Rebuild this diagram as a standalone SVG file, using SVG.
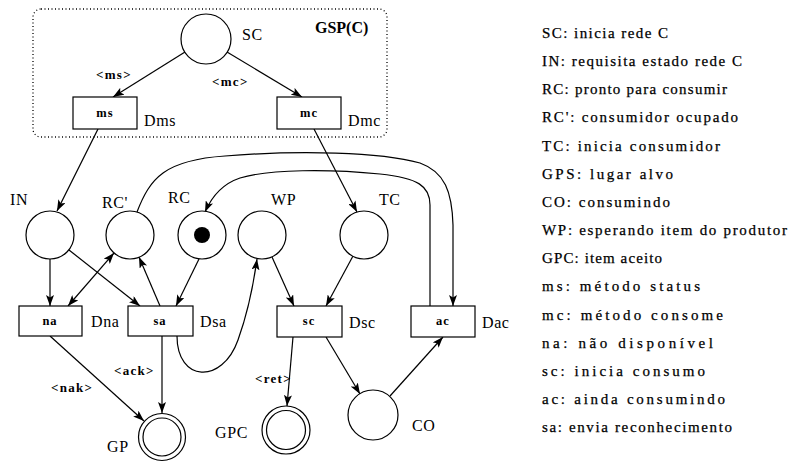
<svg xmlns="http://www.w3.org/2000/svg" width="789" height="462" viewBox="0 0 789 462" font-family="Liberation Serif, Times New Roman, DejaVu Serif, serif">
<defs>
<marker id="ah" viewBox="0 0 11 8" refX="11" refY="4" markerWidth="11" markerHeight="8" markerUnits="userSpaceOnUse" orient="auto-start-reverse">
<path d="M0,0 L11,4 L0,8 L2.5,4 z" fill="#000"/>
</marker>
</defs>
<style>
text{fill:#000}
.lbl{font-size:16px;letter-spacing:0.6px}
.tl{font-size:12.5px;font-weight:bold;letter-spacing:1px;text-anchor:middle}
.al{font-size:13px;font-weight:bold;letter-spacing:1.3px}
.leg{font-size:15px;stroke:#000;stroke-width:0.25}
.pl{fill:#fff;stroke:#000;stroke-width:1.2}
.tr{fill:#fff;stroke:#000;stroke-width:1.2}
.arc{fill:none;stroke:#000;stroke-width:1.2;marker-end:url(#ah)}
</style>
<rect width="789" height="462" fill="#fff"/>
<g id="GSP">
<rect x="33" y="9" width="354" height="128" rx="8" fill="none" stroke="#000" stroke-width="1.3" stroke-dasharray="1 2.5"/>
<text x="315" y="33" font-size="16" font-weight="bold">GSP(C)</text>
</g>
<g id="connectors">
<path class="arc" d="M185,52 L113,97"/>
<path class="arc" d="M227,52 L302,97"/>
<path class="arc" d="M98,129 L57,211"/>
<path class="arc" d="M314,129 L357,212"/>
<path class="arc" d="M50,259 L50,306"/>
<path class="arc" d="M69,250 L140,306"/>
<path class="arc" d="M114,253 L68,306" style="marker-start:url(#ah)"/>
<path class="arc" d="M160,306 L139,257"/>
<path class="arc" d="M199,259 L176,306"/>
<path class="arc" d="M177,336 C177,382 222,385 238,340 C246,318 253,288 257,259"/>
<path class="arc" d="M272,257 L294,306"/>
<path class="arc" d="M353,256 L326,306"/>
<path class="arc" d="M137,212 C150,178 165,160 225,156 C300,150 380,152 420,163 C445,172 452,192 453,225 L453,306"/>
<path class="arc" d="M430,306 L430,205 C430,186 418,178 380,174 C330,169 270,169 240,178 C222,184 212,196 205,212"/>
<path class="arc" d="M50,336 L144,421"/>
<path class="arc" d="M162,336 L162,413"/>
<path class="arc" d="M293,337 L287,406"/>
<path class="arc" d="M326,337 L360,394"/>
<path class="arc" d="M390,396 L443,337"/>
<text class="al" x="96" y="79">&lt;ms&gt;</text>
<text class="al" x="212" y="86">&lt;mc&gt;</text>
<text class="al" x="51" y="392">&lt;nak&gt;</text>
<text class="al" x="114" y="375">&lt;ack&gt;</text>
<text class="al" x="255" y="383">&lt;ret&gt;</text>
</g>
<g id="SC"><circle class="pl" cx="206" cy="39" r="25"/><text class="lbl" x="242" y="40">SC</text></g>
<g id="ms"><rect class="tr" x="73" y="97" width="64" height="32"/><text class="tl" x="105" y="117">ms</text><text class="lbl" x="144" y="126">Dms</text></g>
<g id="mc"><rect class="tr" x="277" y="97" width="64" height="32"/><text class="tl" x="309" y="117">mc</text><text class="lbl" x="348" y="126">Dmc</text></g>
<g id="IN"><circle class="pl" cx="50" cy="235" r="24"/><text class="lbl" x="10" y="205">IN</text></g>
<g id="RCp"><circle class="pl" cx="130" cy="235" r="24"/><text class="lbl" x="102" y="208">RC'</text></g>
<g id="RC"><circle class="pl" cx="202" cy="235" r="24"/><circle cx="202" cy="235" r="8" fill="#000"/><text class="lbl" x="168" y="203">RC</text></g>
<g id="WP"><circle class="pl" cx="262" cy="235" r="24"/><text class="lbl" x="271" y="205">WP</text></g>
<g id="TC"><circle class="pl" cx="364" cy="235" r="24"/><text class="lbl" x="379" y="205">TC</text></g>
<g id="na"><rect class="tr" x="19" y="306" width="63" height="30"/><text class="tl" x="50" y="325">na</text><text class="lbl" x="91" y="327">Dna</text></g>
<g id="sa"><rect class="tr" x="128" y="306" width="65" height="30"/><text class="tl" x="160" y="325">sa</text><text class="lbl" x="200" y="327">Dsa</text></g>
<g id="sc"><rect class="tr" x="277" y="306" width="65" height="31"/><text class="tl" x="309" y="325">sc</text><text class="lbl" x="349" y="328">Dsc</text></g>
<g id="ac"><rect class="tr" x="411" y="306" width="64" height="31"/><text class="tl" x="443" y="325">ac</text><text class="lbl" x="482" y="328">Dac</text></g>
<g id="GP"><circle class="pl" cx="162" cy="437" r="23.5"/><circle class="pl" cx="162" cy="437" r="19"/><text class="lbl" x="107" y="452">GP</text></g>
<g id="GPC"><circle class="pl" cx="286" cy="430" r="24"/><circle class="pl" cx="286" cy="430" r="19.5"/><text class="lbl" x="215" y="438">GPC</text></g>
<g id="CO"><circle class="pl" cx="373" cy="415" r="25"/><text class="lbl" x="412" y="431">CO</text></g>
<g id="legend">
<text class="leg" x="542" y="38" textLength="126" lengthAdjust="spacing">SC: inicia rede C</text>
<text class="leg" x="542" y="66" textLength="200" lengthAdjust="spacing">IN: requisita estado rede C</text>
<text class="leg" x="542" y="94" textLength="185" lengthAdjust="spacing">RC: pronto para consumir</text>
<text class="leg" x="542" y="122" textLength="196" lengthAdjust="spacing">RC': consumidor ocupado</text>
<text class="leg" x="542" y="151" textLength="178" lengthAdjust="spacing">TC: inicia consumidor</text>
<text class="leg" x="542" y="179" textLength="131" lengthAdjust="spacing">GPS: lugar alvo</text>
<text class="leg" x="542" y="207" textLength="128" lengthAdjust="spacing">CO: consumindo</text>
<text class="leg" x="542" y="235" textLength="245" lengthAdjust="spacing">WP: esperando item do produtor</text>
<text class="leg" x="542" y="263" textLength="120" lengthAdjust="spacing">GPC: item aceito</text>
<text class="leg" x="542" y="291" textLength="158" lengthAdjust="spacing">ms: método status</text>
<text class="leg" x="542" y="320" textLength="181" lengthAdjust="spacing">mc: método consome</text>
<text class="leg" x="542" y="348" textLength="171" lengthAdjust="spacing">na: não disponível</text>
<text class="leg" x="542" y="376" textLength="163" lengthAdjust="spacing">sc: inicia consumo</text>
<text class="leg" x="542" y="404" textLength="183" lengthAdjust="spacing">ac: ainda consumindo</text>
<text class="leg" x="542" y="432" textLength="190" lengthAdjust="spacing">sa: envia reconhecimento</text>
</g>
</svg>
